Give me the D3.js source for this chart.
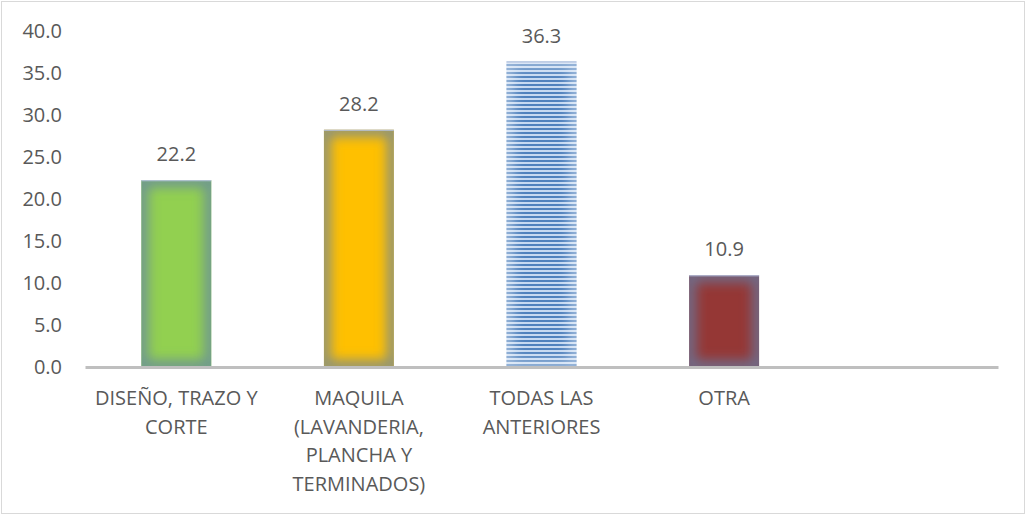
<!DOCTYPE html>
<html>
<head>
<meta charset="utf-8">
<script src="https://cdn.jsdelivr.net/npm/d3@7"></script>
<style>
  body { margin: 0; background: #fff; }
  text { font-family: "Open Sans", "Noto Sans", sans-serif; fill: #595959; }
</style>
</head>
<body>
<div id="chart"></div>
<script>
// data
var categories = ["DISEÑO, TRAZO Y CORTE", "MAQUILA (LAVANDERIA, PLANCHA Y TERMINADOS)", "TODAS LAS ANTERIORES", "OTRA", ""];
var categoryLines = [
    ["DISEÑO, TRAZO Y", "CORTE"],
    ["MAQUILA", "(LAVANDERIA,", "PLANCHA Y", "TERMINADOS)"],
    ["TODAS LAS", "ANTERIORES"],
    ["OTRA"],
    []
];
var values = [22.2, 28.2, 36.3, 10.9];
var yTicks = [0, 5, 10, 15, 20, 25, 30, 35, 40];

var barColors = ["#92D050", "#FFC000", "url(#stripes)", "#953735"];

var W = 1027, H = 516;
var svg = d3.select("#chart").append("svg").attr("width", W).attr("height", H);

// outer frame
svg.append("rect")
    .attr("x", 1.5).attr("y", 1.5)
    .attr("width", W - 4).attr("height", H - 4)
    .attr("fill", "#fff").attr("stroke", "#d9d9d9");

var defs = svg.append("defs");

var pat = defs.append("pattern")
    .attr("id", "stripes")
    .attr("patternUnits", "userSpaceOnUse")
    .attr("width", 8).attr("height", 4);
pat.append("rect").attr("width", 8).attr("height", 4).attr("fill", "#c6d9f1");
pat.append("rect").attr("width", 8).attr("height", 2).attr("fill", "#4f81bd");

defs.append("filter").attr("id", "soft")
    .attr("x", "-30%").attr("y", "-30%").attr("width", "160%").attr("height", "160%")
    .append("feGaussianBlur").attr("stdDeviation", 6);

var x = d3.scaleBand()
    .domain(categories)
    .range([85, 998])
    .paddingInner(0.617)
    .paddingOuter(0.3085);

var y = d3.scaleLinear().domain([0, 40]).range([367, 30.5]);

var fs = "20px";

// y tick labels (no axis line, no gridlines)
svg.append("g")
    .selectAll("text")
    .data(yTicks)
    .join("text")
    .attr("x", 62)
    .attr("y", function(d) { return y(d); })
    .attr("dy", "0.35em")
    .attr("text-anchor", "end")
    .style("font-size", fs)
    .text(function(d) { return d.toFixed(1); });

// bars
var bars = svg.append("g").selectAll("g")
    .data(values)
    .join("g");

bars.each(function(d, i) {
    var g = d3.select(this);
    var bx = x(categories[i]), bw = x.bandwidth(), by = y(d), bh = y(0) - y(d);
    var cid = "clip" + i;
    defs.append("clipPath").attr("id", cid)
        .append("rect").attr("x", bx).attr("y", by).attr("width", bw).attr("height", bh);
    g.append("rect")
        .attr("x", bx).attr("y", by).attr("width", bw).attr("height", bh)
        .attr("fill", barColors[i]);
    // soft blue-grey edge glow
    g.append("g").attr("clip-path", "url(#" + cid + ")")
        .append("rect")
        .attr("x", bx).attr("y", by).attr("width", bw).attr("height", bh)
        .attr("fill", "none")
        .attr("stroke", i == 2 ? "#ffffff" : "#6080aa")
        .attr("stroke-opacity", i == 2 ? 0.45 : 0.7)
        .attr("stroke-width", 14)
        .attr("filter", "url(#soft)");
    g.append("line")
        .attr("x1", bx).attr("x2", bx + bw)
        .attr("y1", by + 0.5).attr("y2", by + 0.5)
        .attr("stroke", "#b8c4e0").attr("stroke-width", 1);
});

// value labels
svg.append("g").selectAll("text")
    .data(values)
    .join("text")
    .attr("x", function(d, i) { return x(categories[i]) + x.bandwidth() / 2; })
    .attr("y", function(d) { return y(d) - 26; })
    .attr("dy", "0.35em")
    .attr("text-anchor", "middle")
    .style("font-size", fs)
    .text(function(d) { return d.toFixed(1); });

// x axis line
var xAxis = svg.append("g")
    .attr("transform", "translate(0," + y(0) + ")")
    .call(d3.axisBottom(x).tickSize(0).tickFormat(""));
xAxis.select(".domain").attr("stroke", "#bfbfbf").attr("stroke-width", 3);

// category labels, wrapped
xAxis.selectAll(".tick").each(function(c, i) {
    var t = d3.select(this).append("text")
        .attr("text-anchor", "middle")
        .style("font-size", fs);
    categoryLines[i].forEach(function(line, k) {
        t.append("tspan").attr("x", 0).attr("y", 31 + k * 28.5).attr("dy", "0.35em").text(line);
    });
});
</script>
</body>
</html>
